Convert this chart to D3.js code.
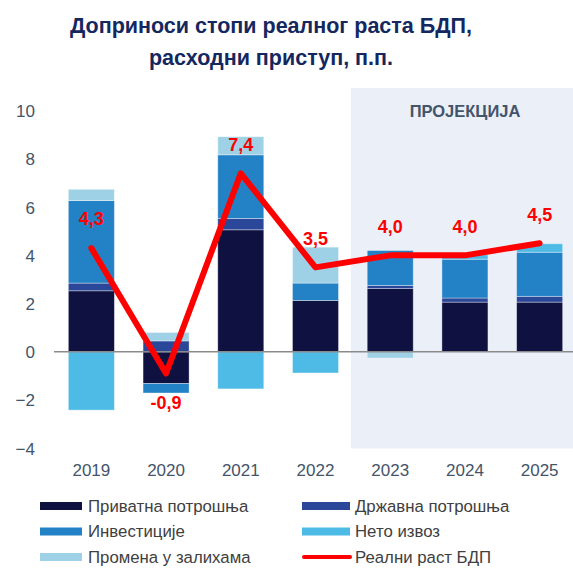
<!DOCTYPE html>
<html><head><meta charset="utf-8">
<script src="https://cdn.jsdelivr.net/npm/d3@7"></script>
<style>html,body{margin:0;padding:0;background:#fff;}svg{display:block;}</style>
</head><body>
<svg id="c" width="573" height="572"></svg>
<script>
const years = ["2019","2020","2021","2022","2023","2024","2025"];
const privateCons = [2.53, -1.32, 5.06, 2.13, 2.62, 2.06, 2.06];
const govCons     = [0.32, 0.45, 0.47, 0.00, 0.13, 0.17, 0.24];
const investment  = [3.42, -0.39, 2.64, 0.72, 1.45, 1.61, 1.83];
const netExports  = [-2.42, 0.00, -1.54, -0.88, 0.00, 0.18, 0.35];
const inventories = [0.47, 0.35, 0.75, 1.49, -0.26, 0.00, 0.00];
const gdpGrowth   = [4.3, -0.9, 7.4, 3.5, 4.0, 4.0, 4.5];
const gdpLabels   = ["4,3","-0,9","7,4","3,5","4,0","4,0","4,5"];
const yTicks = [-4,-2,0,2,4,6,8,10];
const seriesNames = ["Приватна потрошња","Државна потрошња","Инвестиције","Нето извоз","Промена у залихама"];
const lineName = "Реални раст БДП";
const projectionYears = ["2023","2024","2025"];
const projectionLabel = "ПРОЈЕКЦИЈА";
const titleLines = ["Доприноси стопи реалног раста БДП,","расходни приступ, п.п."];

const colors = ["#0f1240","#2a4799","#2382c6","#4dbbe6","#9fd1e6"];
const font = "'Liberation Sans', Arial, sans-serif";
const svg = d3.select("#c");

const keys = ["p","g","i","n","s"];
const seriesArrays = [privateCons, govCons, investment, netExports, inventories];
const table = years.map((y,k)=>{const o={year:y}; keys.forEach((key,j)=>o[key]=seriesArrays[j][k]); return o;});

const x = d3.scaleBand().domain(years).range([54,577]).paddingInner(0.384).paddingOuter(0.192);
const y = d3.scaleLinear().domain([-4,10]).range([448.2,110.7]);

// projection shading
const px0 = x(projectionYears[0]) - x.step()*x.paddingInner()/2 - 2;
svg.append("rect").attr("x",px0).attr("y",88).attr("width",573-px0).attr("height",448.5-88).attr("fill","#eaeff8");
svg.append("text").attr("x",465).attr("y",116.5).attr("text-anchor","middle")
  .attr("font-family",font).attr("font-weight","bold").attr("font-size",16.5).attr("fill","#44546a").text(projectionLabel);

// title
svg.append("g").selectAll("text").data(titleLines).join("text")
  .attr("x",271).attr("y",(d,i)=>33+i*32).attr("text-anchor","middle")
  .attr("font-family",font).attr("font-weight","bold").attr("font-size",21.5).attr("fill","#14285f").text(d=>d);

// y axis labels
const yAxis = d3.axisLeft(y).tickValues(yTicks).tickSize(0).tickPadding(0).tickFormat(d3.format("d"));
const ga = svg.append("g").attr("transform","translate(35,0)").call(yAxis);
ga.select(".domain").remove();
ga.selectAll("text").attr("font-family",font).attr("font-size",17).attr("fill","#44546a").attr("dy","0.35em");

// bars
const stack = d3.stack().keys(keys).offset(d3.stackOffsetDiverging);
const stacked = stack(table);
svg.append("g").selectAll("g").data(stacked).join("g").attr("fill",(d,i)=>colors[i])
  .selectAll("rect").data(d=>d.filter(v=>v[1]!==v[0])).join("rect")
  .attr("x",d=>x(d.data.year)).attr("width",x.bandwidth())
  .attr("y",d=>y(Math.max(d[0],d[1]))).attr("height",d=>Math.abs(y(d[0])-y(d[1])))
  .attr("stroke","#ffffff").attr("stroke-opacity",0.45).attr("stroke-width",0.8);

// zero line
svg.append("line").attr("x1",54).attr("x2",573).attr("y1",y(0)).attr("y2",y(0))
  .attr("stroke","#8a8a8a").attr("stroke-width",1.5);

// x labels
const xAxis = d3.axisBottom(x).tickSize(0).tickPadding(0);
const gx = svg.append("g").attr("transform","translate(0,470)").call(xAxis);
gx.select(".domain").remove();
gx.selectAll("text").attr("font-family",font).attr("font-size",17).attr("fill","#44546a").attr("dy","0.35em");

// GDP line
const line = d3.line().x((d,i)=>x(years[i])+x.bandwidth()/2).y(d=>y(d));
svg.append("path").datum(gdpGrowth).attr("d",line).attr("fill","none")
  .attr("stroke","#ff0000").attr("stroke-width",6).attr("stroke-linejoin","round").attr("stroke-linecap","round");

// labels
svg.append("g").selectAll("text").data(gdpGrowth).join("text")
  .attr("x",(d,i)=>x(years[i])+x.bandwidth()/2)
  .attr("y",d=>y(d)+(d<0?29:-29)).attr("dy","0.35em").attr("text-anchor","middle")
  .attr("font-family",font).attr("font-weight","bold").attr("font-size",18).attr("fill","#ff0000")
  .text((d,i)=>gdpLabels[i]);

// legend
const legendItems = seriesNames.map((n,i)=>({name:n,color:colors[i],type:"rect"}));
legendItems.push({name:lineName,color:"#ff0000",type:"line"});
const lg = svg.append("g").selectAll("g").data(legendItems).join("g")
  .attr("transform",(d,i)=>`translate(${i%2===0?40:302},${506+Math.floor(i/2)*25.5})`);
lg.filter(d=>d.type==="rect").append("rect").attr("x",0).attr("y",-4).attr("width",(d,i)=>i%2===0?42:48).attr("height",8).attr("fill",d=>d.color);
lg.filter(d=>d.type==="line").append("line").attr("x1",2).attr("x2",48).attr("y1",0).attr("y2",0)
  .attr("stroke",d=>d.color).attr("stroke-width",4).attr("stroke-linecap","round");
lg.append("text").attr("x",(d,i)=>i%2===0?48:53).attr("y",0).attr("dy","0.35em")
  .attr("font-family",font).attr("font-size",16.8).attr("fill","#404040").text(d=>d.name);
</script>
</body></html>
